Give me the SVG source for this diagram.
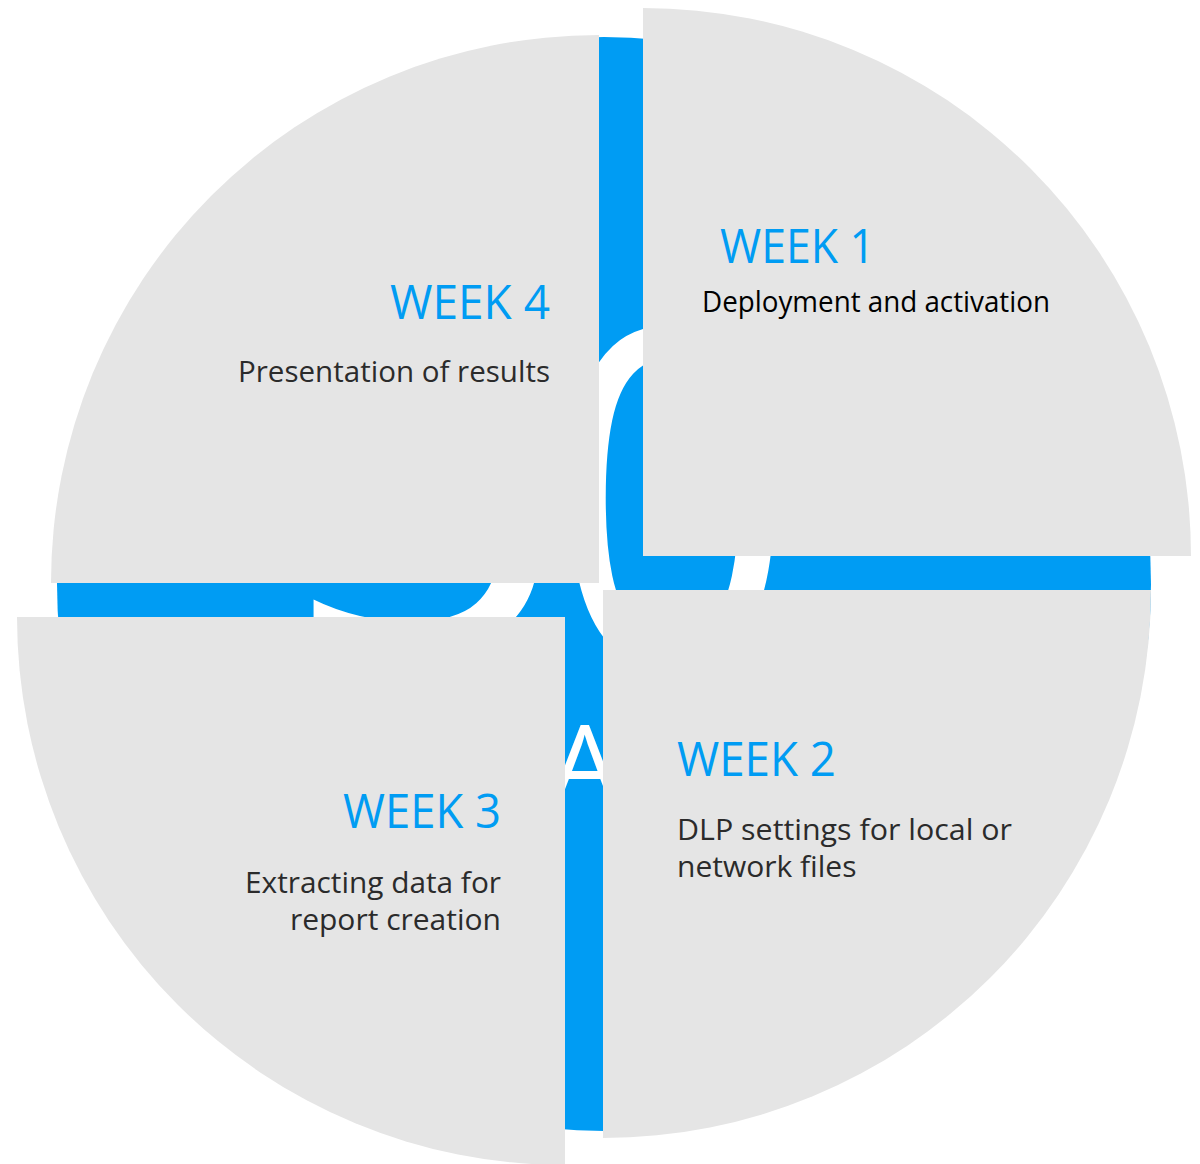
<svg xmlns="http://www.w3.org/2000/svg" width="1200" height="1164" viewBox="0 0 1200 1164">
  <style>
    .sector { fill: #E5E5E5; }
    .wk { font-family: "Open Sans", "Noto Sans", "Liberation Sans", sans-serif; font-size: 48px; fill: #009CF3; }
    .body { font-family: "Open Sans", "Noto Sans", "Liberation Sans", sans-serif; font-size: 30px; fill: #2B2B2B; }
    .bg { font-family: "Open Sans", "Noto Sans", "Liberation Sans", sans-serif; fill: #FFFFFF; }
  </style>
  <defs>
    <clipPath id="gaps">
      <rect x="599" y="0" width="44" height="590"/>
      <rect x="643" y="556" width="557" height="34"/>
      <rect x="0" y="583" width="603" height="34"/>
      <rect x="565" y="590" width="38" height="574"/>
    </clipPath>
  </defs>
  <rect width="1200" height="1164" fill="#FFFFFF"/>
  <g id="background">
    <circle cx="604" cy="584" r="547" fill="#009CF3"/>
    <g clip-path="url(#gaps)">
      <text class="bg" x="292" y="650" font-size="480">3</text>
      <text class="bg" transform="translate(672,666) scale(0.92,1)" x="-134" y="0" font-size="470">0</text>
      <text class="bg" x="550" y="804" font-size="110">A</text>
    </g>
  </g>
  <g id="connectors"></g>
  <g id="week1">
    <path class="sector" d="M643,556 V8 A548,548 0 0 1 1191,556 Z"/>
    <text class="wk" x="720" y="263" textLength="155" lengthAdjust="spacingAndGlyphs">WEEK 1</text>
    <text class="body" x="702" y="312" font-size="29" style="fill:#000000" textLength="348" lengthAdjust="spacingAndGlyphs">Deployment and activation</text>
  </g>
  <g id="week4">
    <path class="sector" d="M599,583 H51 A548,548 0 0 1 599,35 Z"/>
    <text class="wk" x="550" y="319" text-anchor="end" textLength="160" lengthAdjust="spacingAndGlyphs">WEEK 4</text>
    <text class="body" x="550" y="382" text-anchor="end" textLength="312" lengthAdjust="spacingAndGlyphs">Presentation of results</text>
  </g>
  <g id="week3">
    <path class="sector" d="M565,617 V1165 A548,548 0 0 1 17,617 Z"/>
    <text class="wk" x="501" y="828" text-anchor="end" textLength="158" lengthAdjust="spacingAndGlyphs">WEEK 3</text>
    <text class="body" x="501" y="893" text-anchor="end" textLength="256" lengthAdjust="spacingAndGlyphs">Extracting data for</text>
    <text class="body" x="501" y="930" text-anchor="end">report creation</text>
  </g>
  <g id="week2">
    <path class="sector" d="M603,590 H1151 A548,548 0 0 1 603,1138 Z"/>
    <text class="wk" x="677" y="776" textLength="159" lengthAdjust="spacingAndGlyphs">WEEK 2</text>
    <text class="body" x="677" y="840" textLength="335" lengthAdjust="spacingAndGlyphs">DLP settings for local or</text>
    <text class="body" x="677" y="877">network files</text>
  </g>
</svg>
